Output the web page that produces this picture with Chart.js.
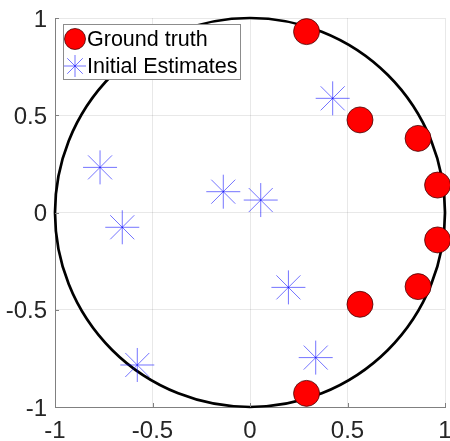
<!DOCTYPE html>
<html>
<head>
<meta charset="utf-8">
<script src="https://cdn.jsdelivr.net/npm/chart.js@4"></script>
<style>
  html, body { margin: 0; padding: 0; background: #fff; }
  #wrap { width: 450px; height: 441px; }
</style>
</head>
<body>
<div id="wrap"><canvas id="c" width="450" height="441"></canvas></div>
<script>
// Ground-truth positions (on the unit circle)
const truthX = [0.29, 0.564, 0.862, 0.962, 0.962, 0.862, 0.564, 0.29];
const truthY = [0.93, 0.476, 0.381, 0.141, -0.141, -0.381, -0.472, -0.93];

// Initial estimates
const estX = [0.424, -0.769, -0.137, 0.055, -0.655, 0.197, 0.337, -0.578];
const estY = [0.587, 0.232, 0.107, 0.064, -0.076, -0.385, -0.746, -0.784];

// Axis ticks
const tickValues = [-1, -0.5, 0, 0.5, 1];
const tickLabels = ['-1', '-0.5', '0', '0.5', '1'];

const seriesNames = ['Ground truth', 'Initial Estimates'];
const circleRadius = 1;

const FONT = '"Liberation Sans", Arial, Helvetica, sans-serif';
const TEXT = '#262626';

const toPoints = (xs, ys) => xs.map((x, i) => ({ x: x, y: ys[i] }));

// Unit circle drawn behind the markers, positioned by the scales
const circlePlugin = {
  id: 'unitCircle',
  beforeDatasetsDraw(chart) {
    const { ctx, scales: { x, y } } = chart;
    const cx = x.getPixelForValue(0), cy = y.getPixelForValue(0);
    const rx = x.getPixelForValue(circleRadius) - cx;
    const ry = cy - y.getPixelForValue(circleRadius);
    ctx.save();
    ctx.beginPath();
    ctx.ellipse(cx, cy, rx, ry, 0, 0, Math.PI * 2);
    ctx.strokeStyle = '#000';
    ctx.lineWidth = 2.7;
    ctx.stroke();
    ctx.restore();
  }
};

// Short inward tick marks on the left and bottom axes
const innerTicks = {
  id: 'innerTicks',
  afterDatasetsDraw(chart) {
    const { ctx, chartArea: a, scales: { x, y } } = chart;
    ctx.save();
    ctx.strokeStyle = '#808080';
    ctx.lineWidth = 1;
    ctx.beginPath();
    tickValues.forEach(v => {
      const px = Math.round(x.getPixelForValue(v)) + 0.5;
      ctx.moveTo(px, a.bottom);
      ctx.lineTo(px, a.bottom - 4);
      const py = Math.round(y.getPixelForValue(v)) + 0.5;
      ctx.moveTo(a.left, py);
      ctx.lineTo(a.left + 4, py);
    });
    ctx.stroke();
    ctx.restore();
  }
};

// Boxed legend inside the top-left of the plot
const boxLegend = {
  id: 'boxLegend',
  afterDraw(chart) {
    const { ctx, chartArea: a } = chart;
    const left = a.left + 8, top = a.top + 6, w = 177, h = 55;
    ctx.save();
    ctx.fillStyle = '#fff';
    ctx.fillRect(left, top, w, h);
    ctx.strokeStyle = '#8c8c8c';
    ctx.lineWidth = 1;
    ctx.strokeRect(left + 0.5, top + 0.5, w, h);
    const rows = [top + 15, top + 42];
    const sizes = [10.5, 11];
    chart.data.datasets.forEach((ds, i) => {
      const mx = left + 12, my = rows[i];
      ctx.fillStyle = ds.backgroundColor;
      ctx.strokeStyle = ds.borderColor;
      ctx.lineWidth = ds.borderWidth;
      Chart.helpers.drawPoint(ctx, { pointStyle: ds.pointStyle, rotation: 0, radius: sizes[i], borderWidth: ds.borderWidth }, mx, my);
      ctx.fillStyle = '#000';
      ctx.font = '21.5px ' + FONT;
      ctx.textBaseline = 'middle';
      ctx.textAlign = 'left';
      ctx.fillText(ds.label, left + 24, my + 1);
    });
    ctx.restore();
  }
};

const axisCommon = {
  type: 'linear',
  min: -1,
  max: 1,
  afterBuildTicks(scale) { scale.ticks = tickValues.map(v => ({ value: v })); },
  grid: { color: 'rgba(0,0,0,0.09)', lineWidth: 1, drawTicks: false },
  border: { display: true, color: '#808080', width: 1 },
  ticks: {
    color: TEXT,
    font: { family: FONT, size: 24 },
    callback: (v) => tickLabels[tickValues.indexOf(v)]
  }
};

new Chart(document.getElementById('c'), {
  type: 'scatter',
  data: {
    datasets: [
      {
        label: seriesNames[0],
        data: toPoints(truthX, truthY),
        pointStyle: 'circle',
        pointRadius: 13,
        pointHoverRadius: 13,
        backgroundColor: '#ff0000',
        borderColor: 'rgba(60,0,0,0.75)',
        borderWidth: 1,
        clip: false
      },
      {
        label: seriesNames[1],
        data: toPoints(estX, estY),
        pointStyle: 'star',
        pointRadius: 17,
        pointHoverRadius: 17,
        backgroundColor: 'rgba(0,0,255,0.55)',
        borderColor: 'rgba(0,0,255,0.55)',
        borderWidth: 1,
        clip: false
      }
    ]
  },
  options: {
    responsive: false,
    animation: false,
    layout: { autoPadding: false, padding: { top: 18, right: 5, left: 0, bottom: 0 } },
    plugins: { legend: { display: false }, tooltip: { enabled: false } },
    scales: {
      x: Object.assign({}, axisCommon, {
        position: 'bottom',
        ticks: Object.assign({}, axisCommon.ticks, { padding: 10, maxRotation: 0 }),
        afterFit(scale) {
          scale.height = 34;
          scale.paddingLeft = 0;
          scale.paddingRight = 0;
        }
      }),
      y: Object.assign({}, axisCommon, {
        position: 'left',
        ticks: Object.assign({}, axisCommon.ticks, { padding: 8, labelOffset: 2 }),
        afterFit(scale) {
          scale.width = 55;
          scale.paddingTop = 0;
          scale.paddingBottom = 0;
        }
      })
    }
  },
  plugins: [circlePlugin, innerTicks, boxLegend]
});
</script>
</body>
</html>
